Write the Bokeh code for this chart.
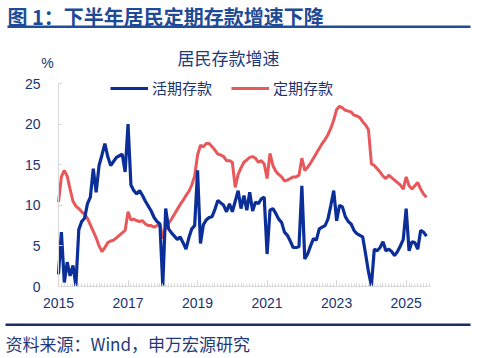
import pandas as pd
from bokeh.plotting import figure
from bokeh.models import Range1d, FixedTicker, Label, BoxAnnotation, Legend, LegendItem
from bokeh.embed import file_html
from bokeh.resources import INLINE

# ---------------- data (monthly, from Jan 2015) ----------------
start_month = "2015-01"
huoqi = [  # 活期存款 growth, %
    1.5, 6.7, 0.5, 3.0, 1.3, 2.6, 0.1, 7.0, 8.0, 8.4, 10.2, 11.0,
    14.5, 11.6, 14.9, 16.2, 17.6, 16.0, 14.9, 15.4, 15.9, 16.1, 16.3, 14.1,
    20.0, 12.5, 11.8, 11.4, 11.8, 11.2, 10.5, 9.9, 9.3, 8.5, 8.0, 7.7,
    0.1, 9.6, 7.1, 6.6, 6.2, 5.8, 6.1, 5.4, 4.6, 6.0, 7.1, 7.5,
    14.3, 5.3, 7.6, 8.2, 8.5, 8.6, 9.5, 10.6, 10.3, 10.0, 9.2, 10.2,
    9.2, 10.5, 11.8, 9.6, 11.2, 9.4, 11.6, 9.3, 10.4, 10.2, 10.8, 11.0,
    4.0, 9.4, 9.6, 9.0, 8.3, 7.9, 6.7, 6.3, 5.6, 4.8, 4.8, 4.9,
    12.4, 3.4, 4.0, 5.0, 5.9, 5.7, 7.1, 7.3, 7.5, 8.3, 10.0, 11.8,
    8.1, 10.0, 9.8, 8.6, 8.0, 7.7, 6.9, 6.5, 6.3, 6.1, 4.0, 1.8,
    0.1, 4.6, 4.4, 4.8, 5.5, 4.4, 4.6, 4.3, 3.8, 4.3, 5.0, 5.8,
    9.6, 4.4, 5.5, 5.4, 4.6, 6.9, 6.7, 6.2,
]
dingqi = [  # 定期存款 growth, %
    10.4, 13.5, 14.3, 13.6, 12.0, 10.5, 9.9, 9.6, 9.2, 8.9, 8.4, 7.6,
    6.8, 6.0, 5.0, 4.3, 4.8, 5.4, 5.6, 5.7, 6.0, 6.3, 6.6, 6.9,
    9.2, 8.2, 8.3, 8.1, 8.0, 8.1, 7.7, 7.5, 7.5, 7.3, 7.5, 7.7,
    5.9, 7.3, 7.8, 8.3, 8.9, 9.5, 10.1, 10.6, 11.2, 11.7, 12.5, 13.6,
    16.2, 17.4, 17.2, 17.6, 17.6, 17.2, 16.8, 16.3, 16.2, 16.0, 15.5, 15.5,
    15.3, 12.2, 13.8, 14.6, 15.3, 15.6, 15.9, 16.0, 15.8, 15.3, 15.5, 15.1,
    13.3, 16.4, 14.9, 14.2, 13.8, 13.5, 13.0, 13.1, 13.3, 13.5, 13.5, 13.7,
    15.8, 14.3, 14.7, 15.2, 15.8, 16.4, 17.0, 17.6, 18.1, 18.7, 19.5, 20.5,
    21.8, 22.2, 22.0, 21.7, 21.6, 21.5, 21.1, 21.0, 20.8, 20.3, 19.9, 19.3,
    15.1, 14.9, 14.5, 14.1, 13.6, 13.3, 13.7, 13.4, 13.1, 12.8, 12.5, 12.0,
    13.5, 12.4, 12.0, 12.4, 12.8, 12.0, 11.4, 11.0,
]
x_tick_years = [2015, 2017, 2019, 2021, 2023, 2025]
y_ticks = [0, 5, 10, 15, 20, 25]
series_names = ["活期存款", "定期存款"]
chart_title = "居民存款增速"
header_text = "图 1：下半年居民定期存款增速下降"
source_text = "资料来源：Wind，申万宏源研究"

dates = pd.date_range(start_month, periods=len(huoqi), freq="MS")
xs = list(dates.year + (dates.month - 1) / 12.0)

# ---------------- layout (canvas pixels) ----------------
W, H = 481, 358
X_AX0, X_AX1 = 2015, 2025.7          # extent of the x axis line
Y_AX0, Y_AX1 = 0, 25                 # extent of the y axis line
PX_L, PX_R = 58, 430                 # canvas x of the x-axis ends
PY_B, PY_T = 286, 83                 # canvas y of y=0 and y=25
SX = (PX_R - PX_L) / (X_AX1 - X_AX0)
SY = (PY_B - PY_T) / (Y_AX1 - Y_AX0)

def px(xp):  # canvas x -> data x
    return X_AX0 + (xp - PX_L) / SX

def py(yp):  # canvas y -> data y
    return Y_AX0 + (PY_B - yp) / SY

NAVY = "#1c3370"
BLUE = "#0b2e98"
RED = "#e8585a"
CJK = "Noto Sans CJK SC"

p = figure(width=W, height=H, x_range=Range1d(px(0), px(W)), y_range=Range1d(py(H), py(0)),
           output_backend="svg", toolbar_location=None,
           min_border=0, min_border_left=0, min_border_right=0,
           min_border_top=0, min_border_bottom=0)
p.outline_line_color = None
p.grid.visible = False
p.background_fill_color = "white"
p.border_fill_color = "white"

r_ding = p.line(xs, dingqi, line_color=RED, line_width=3)
r_huo = p.line(xs, huoqi, line_color=BLUE, line_width=3.2)

minor = [X_AX0 + m / 12.0 for m in range(0, int(round((X_AX1 - X_AX0) * 12)) + 1)]
xa = p.xaxis[0]
xa.fixed_location = Y_AX0
xa.bounds = (X_AX0, X_AX1)
xa.ticker = FixedTicker(ticks=x_tick_years, minor_ticks=minor)
xa.axis_line_color = "#d9d9d9"
xa.axis_line_width = 1
xa.major_tick_line_color = "#cfcfcf"
xa.minor_tick_line_color = "#d9d9d9"
xa.major_tick_in = 6
xa.major_tick_out = 0
xa.minor_tick_in = 3
xa.minor_tick_out = 0
xa.major_label_standoff = 11
xa.major_label_text_font = "Liberation Sans"
xa.major_label_text_font_size = "14px"
xa.major_label_text_color = NAVY

ya = p.yaxis[0]
ya.fixed_location = X_AX0
ya.bounds = (Y_AX0, Y_AX1)
ya.ticker = FixedTicker(ticks=y_ticks)
ya.axis_line_color = "#d9d9d9"
ya.major_tick_line_color = "#d9d9d9"
ya.major_tick_in = 4
ya.major_tick_out = 0
ya.minor_tick_line_color = None
ya.major_label_standoff = 18
ya.major_label_text_font = "Liberation Sans"
ya.major_label_text_font_size = "14px"
ya.major_label_text_color = NAVY

legend = Legend(items=[LegendItem(label=series_names[0], renderers=[r_huo]),
                       LegendItem(label=series_names[1], renderers=[r_ding])],
                orientation="horizontal", location=(110, 260),
                glyph_width=38, glyph_height=16, label_height=16, label_standoff=4,
                spacing=19, padding=0, margin=0, border_line_color=None,
                background_fill_alpha=0, label_text_font=CJK,
                label_text_font_size="15px", label_text_color=NAVY)
p.add_layout(legend)

# header
p.add_layout(Label(x=px(7), y=py(15.5), text=header_text, text_baseline="middle",
                   text_align="left", text_font=CJK, text_font_style="bold",
                   text_font_size="20px", text_color="#1e4a96"))
p.add_layout(BoxAnnotation(left=px(7), right=px(470), top=py(25), bottom=py(27.5),
                           fill_color="#1f4d9b", fill_alpha=1, line_color=None))
# chart title
p.add_layout(Label(x=px(228), y=py(57), text=chart_title, text_baseline="middle",
                   text_align="center", text_font=CJK, text_font_size="17px",
                   text_color="#203a78"))
# % unit
p.add_layout(Label(x=px(47), y=py(62), text="%", text_baseline="middle",
                   text_align="center", text_font="Liberation Sans", text_font_size="14px",
                   text_color=NAVY))
# footer
p.add_layout(BoxAnnotation(left=px(5), right=px(470), top=py(323), bottom=py(325.5),
                           fill_color="#1b2f66", fill_alpha=1, line_color=None))
p.add_layout(Label(x=px(5), y=py(343), text=source_text, text_baseline="middle",
                   text_align="left", text_font=CJK, text_font_size="17px",
                   text_color="#1f3a7a"))

open("out.html", "w").write(file_html(p, INLINE))
